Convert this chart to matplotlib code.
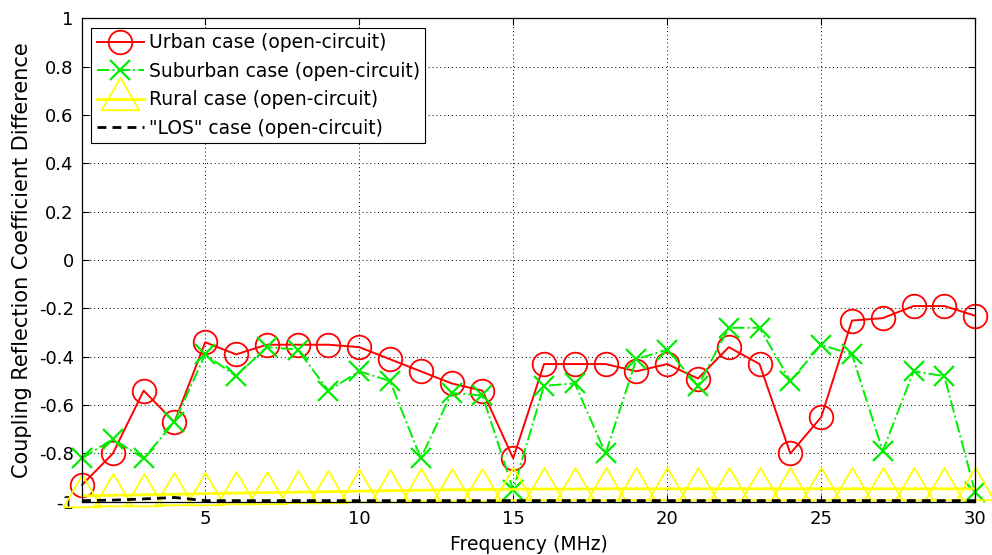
import numpy as np
import matplotlib.pyplot as plt
from matplotlib.path import Path

plt.rcParams['font.family'] = ['DejaVu Sans']

freq = list(range(1, 31))

urban = [-0.93, -0.80, -0.54, -0.67, -0.34, -0.39, -0.35, -0.35, -0.35, -0.36,
         -0.41, -0.46, -0.51, -0.54, -0.82, -0.43, -0.43, -0.43, -0.46, -0.43,
         -0.49, -0.36, -0.43, -0.80, -0.65, -0.25, -0.24, -0.19, -0.19, -0.23]

suburban = [-0.82, -0.74, -0.82, -0.67, -0.39, -0.48, -0.36, -0.37, -0.54, -0.46,
            -0.50, -0.82, -0.55, -0.56, -0.95, -0.52, -0.51, -0.80, -0.41, -0.37,
            -0.52, -0.28, -0.28, -0.50, -0.35, -0.39, -0.79, -0.46, -0.48, -0.96]

rural = [-0.975, -0.973, -0.971, -0.969, -0.966, -0.964, -0.962, -0.960, -0.958, -0.956,
         -0.954, -0.952, -0.950, -0.949, -0.948, -0.947, -0.947, -0.946, -0.946, -0.946,
         -0.946, -0.946, -0.946, -0.946, -0.946, -0.946, -0.946, -0.946, -0.946, -0.946]

los = [-0.995, -0.993, -0.988, -0.982, -0.995, -0.995, -0.995, -0.995, -0.995, -0.995,
       -0.995, -0.995, -0.995, -0.995, -0.995, -0.995, -0.995, -0.995, -0.995, -0.995,
       -0.995, -0.995, -0.995, -0.995, -0.995, -0.995, -0.995, -0.995, -0.995, -0.995]

xticks = [5, 10, 15, 20, 25, 30]
yticks = [1, 0.8, 0.6, 0.4, 0.2, 0, -0.2, -0.4, -0.6, -0.8, -1]
ytick_labels = ['1', '0.8', '0.6', '0.4', '0.2', '0', '-0.2', '-0.4', '-0.6', '-0.8', '-1']

# triangle marker with its centroid on the data point
tri = Path([(0, 2), (-1.75, -1), (1.75, -1), (0, 2)],
           [Path.MOVETO, Path.LINETO, Path.LINETO, Path.CLOSEPOLY])

fig = plt.figure(figsize=(9.92, 5.55), dpi=100)
ax = fig.add_axes([0.0827, 0.0958, 0.9003, 0.871])

ax.plot(freq, urban, color='#ff0000', lw=1.4, marker='o', ms=17,
        mfc='none', mec='#ff0000', mew=1.3, clip_on=False,
        label='Urban case (open-circuit)')
ax.plot(freq, suburban, color='#00ee00', lw=1.4, ls='-.', marker='x', ms=14,
        mew=1.6, clip_on=False, label='Suburban case (open-circuit)')
ax.plot(freq, rural, color='#ffff00', lw=2.0, marker=tri, ms=31,
        mfc='none', mec='#ffff00', mew=1.3, clip_on=False,
        label='Rural case (open-circuit)')
ax.plot(freq, los, color='black', lw=2.0, ls=(0, (3.2, 2.2)), clip_on=False,
        label='"LOS" case (open-circuit)')

ax.set_xlim(1, 30)
ax.set_ylim(-1, 1)
ax.set_xticks(xticks)
ax.set_yticks(yticks)
ax.set_yticklabels(ytick_labels)
ax.tick_params(direction='in', length=5, width=0.8, labelsize=13, top=True, right=True, pad=6)
ax.grid(True, color='black', ls=(0, (1, 3)), lw=0.7)
for s in ax.spines.values():
    s.set_linewidth(0.9)

ax.set_xlabel('Frequency (MHz)', fontsize=13.5, labelpad=5)
ax.set_ylabel('Coupling Reflection Coefficient Difference', fontsize=15, labelpad=5)

leg = ax.legend(loc='upper left', fontsize=13.5, frameon=True, fancybox=False,
                edgecolor='black', framealpha=1, borderpad=0.3, labelspacing=0.5,
                handlelength=2.5, handletextpad=0.25, borderaxespad=0.5)
leg.get_frame().set_linewidth(0.8)

fig.savefig('out.png', dpi=100)
